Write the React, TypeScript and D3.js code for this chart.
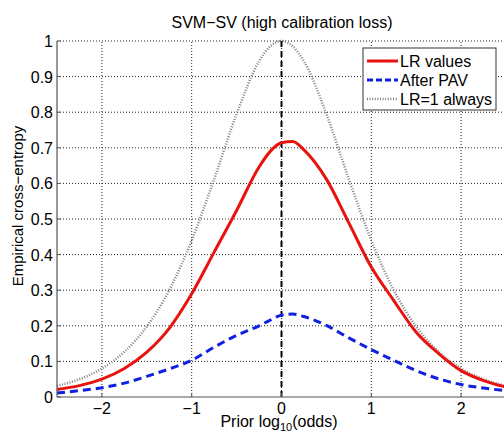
import { useEffect, useRef } from "react";
import * as d3 from "d3";

// prior log10(odds) sample points
const priorLogOdds = [
	-2.5, -2.25, -2, -1.75, -1.5, -1.25, -1, -0.75, -0.5, -0.25, -0.125, 0,
	0.125, 0.25, 0.5, 0.75, 1, 1.25, 1.5, 1.75, 2, 2.25, 2.5,
];

// empirical cross-entropy
const lrValues = [
	0.021, 0.032, 0.05, 0.08, 0.126, 0.193, 0.29, 0.407, 0.524, 0.646, 0.69,
	0.714, 0.718, 0.694, 0.612, 0.489, 0.365, 0.271, 0.182, 0.122, 0.074, 0.046,
	0.028,
];
const afterPav = [
	0.011, 0.018, 0.026, 0.039, 0.058, 0.079, 0.103, 0.14, 0.173, 0.2, 0.216,
	0.23, 0.233, 0.226, 0.201, 0.166, 0.133, 0.103, 0.074, 0.051, 0.035, 0.025,
	0.018,
];
const lrOneAlways = [
	0.031, 0.05, 0.08, 0.127, 0.198, 0.3, 0.44, 0.612, 0.795, 0.943, 0.985, 1.0,
	0.985, 0.943, 0.795, 0.612, 0.44, 0.3, 0.198, 0.127, 0.08, 0.05, 0.031,
];

const xTicks = [-2, -1, 0, 1, 2];
const yTicks = [0, 0.1, 0.2, 0.3, 0.4, 0.5, 0.6, 0.7, 0.8, 0.9, 1];

const legendItems = ["LR values", "After PAV", "LR=1 always"];

const FONT = "'Liberation Sans', Arial, Helvetica, sans-serif";

export default function App() {
	const ref = useRef<SVGSVGElement>(null);

	const width = 504;
	const height = 432;
	const margin = { top: 41, right: -2, bottom: 35, left: 57 };

	useEffect(() => {
		const svg = d3.select(ref.current);
		svg.selectAll("*").remove();

		const xScale = d3
			.scaleLinear()
			.domain([-2.5, 2.5])
			.range([margin.left, width - margin.right]);
		const yScale = d3
			.scaleLinear()
			.domain([0, 1])
			.range([height - margin.bottom, margin.top]);

		svg.append("rect").attr("width", width).attr("height", height).attr("fill", "#fff");

		// dotted grid
		const grid = svg.append("g").attr("stroke", "#222").attr("stroke-width", 1).attr("stroke-dasharray", "1,2");
		grid
			.selectAll("line.gx")
			.data(xTicks)
			.enter()
			.append("line")
			.attr("x1", (d) => xScale(d))
			.attr("x2", (d) => xScale(d))
			.attr("y1", yScale(0))
			.attr("y2", yScale(1));
		grid
			.selectAll("line.gy")
			.data(yTicks.filter((d) => d > 0))
			.enter()
			.append("line")
			.attr("x1", xScale(-2.5))
			.attr("x2", xScale(2.5))
			.attr("y1", (d) => yScale(d))
			.attr("y2", (d) => yScale(d));

		const line = (vals: number[]) =>
			d3
				.line<number>()
				.x((_, i) => xScale(priorLogOdds[i]))
				.y((d) => yScale(d))
				.curve(d3.curveMonotoneX)(vals);

		// LR=1 always
		svg
			.append("path")
			.attr("d", line(lrOneAlways))
			.attr("fill", "none")
			.attr("stroke", "#808080")
			.attr("stroke-width", 2.5)
			.attr("stroke-dasharray", "1,1.6");

		// vertical dashed at 0
		svg
			.append("line")
			.attr("x1", xScale(0))
			.attr("x2", xScale(0))
			.attr("y1", yScale(0))
			.attr("y2", yScale(1))
			.attr("stroke", "#000")
			.attr("stroke-width", 2)
			.attr("stroke-dasharray", "6,4");

		svg
			.append("path")
			.attr("d", line(lrValues))
			.attr("fill", "none")
			.attr("stroke", "#e8130f")
			.attr("stroke-width", 3);

		svg
			.append("path")
			.attr("d", line(afterPav))
			.attr("fill", "none")
			.attr("stroke", "#1020e0")
			.attr("stroke-width", 3)
			.attr("stroke-dasharray", "8,5");

		// axes
		const axisColor = "#555";
		svg
			.append("line")
			.attr("x1", xScale(-2.5))
			.attr("x2", xScale(-2.5))
			.attr("y1", yScale(0))
			.attr("y2", yScale(1))
			.attr("stroke", axisColor)
			.attr("stroke-width", 1.2);
		svg
			.append("line")
			.attr("x1", xScale(-2.5))
			.attr("x2", xScale(2.5))
			.attr("y1", yScale(0))
			.attr("y2", yScale(0))
			.attr("stroke", axisColor)
			.attr("stroke-width", 1.2);

		// inward ticks
		svg
			.selectAll("line.xt")
			.data(xTicks)
			.enter()
			.append("line")
			.attr("x1", (d) => xScale(d))
			.attr("x2", (d) => xScale(d))
			.attr("y1", yScale(0))
			.attr("y2", yScale(0) - 4)
			.attr("stroke", axisColor);
		svg
			.selectAll("line.yt")
			.data(yTicks)
			.enter()
			.append("line")
			.attr("x1", xScale(-2.5))
			.attr("x2", xScale(-2.5) + 4)
			.attr("y1", (d) => yScale(d))
			.attr("y2", (d) => yScale(d))
			.attr("stroke", axisColor);

		// tick labels
		svg
			.selectAll("text.xl")
			.data(xTicks)
			.enter()
			.append("text")
			.attr("x", (d) => xScale(d))
			.attr("y", yScale(0) + 17)
			.attr("text-anchor", "middle")
			.attr("font-family", FONT)
			.attr("font-size", 16)
			.text((d) => (d < 0 ? "\u2212" + Math.abs(d) : String(d)));
		svg
			.selectAll("text.yl")
			.data(yTicks)
			.enter()
			.append("text")
			.attr("x", xScale(-2.5) - 4)
			.attr("y", (d) => yScale(d) + 6)
			.attr("text-anchor", "end")
			.attr("font-family", FONT)
			.attr("font-size", 16)
			.text((d) => String(d));

		// title
		svg
			.append("text")
			.attr("x", 282)
			.attr("y", 28)
			.attr("text-anchor", "middle")
			.attr("font-family", FONT)
			.attr("font-size", 16)
			.text("SVM\u2212SV (high calibration loss)");

		// x label
		const xl = svg
			.append("text")
			.attr("x", 279)
			.attr("y", 427)
			.attr("text-anchor", "middle")
			.attr("font-family", FONT)
			.attr("font-size", 16);
		xl.append("tspan").text("Prior log");
		xl.append("tspan").attr("font-size", 11).attr("dy", 4).text("10");
		xl.append("tspan").attr("dy", -4).text("(odds)");

		// y label
		svg
			.append("text")
			.attr("transform", `translate(23,206) rotate(-90)`)
			.attr("text-anchor", "middle")
			.attr("font-family", FONT)
			.attr("font-size", 15)
			.text("Empirical cross\u2212entropy");

		// legend
		const lg = svg.append("g");
		lg.append("rect")
			.attr("x", 363)
			.attr("y", 48)
			.attr("width", 133)
			.attr("height", 62)
			.attr("fill", "#fff")
			.attr("stroke", "#333")
			.attr("stroke-width", 1);
		const styles = [
			{ stroke: "#e8130f", dash: null, width: 3 },
			{ stroke: "#1020e0", dash: "6,3", width: 3 },
			{ stroke: "#808080", dash: "1,1.6", width: 2.5 },
		];
		legendItems.forEach((label, i) => {
			const cy = 61 + i * 19;
			lg.append("line")
				.attr("x1", 367)
				.attr("x2", 398)
				.attr("y1", cy)
				.attr("y2", cy)
				.attr("stroke", styles[i].stroke)
				.attr("stroke-width", styles[i].width)
				.attr("stroke-dasharray", styles[i].dash);
			lg.append("text")
				.attr("x", 400)
				.attr("y", cy + 6)
				.attr("font-family", FONT)
				.attr("font-size", 16)
				.text(label);
		});
	}, []);

	return (
		<svg
			ref={ref}
			width={width}
			height={height}
			style={{ position: "absolute", left: 0, top: 0 }}
		/>
	);
}
